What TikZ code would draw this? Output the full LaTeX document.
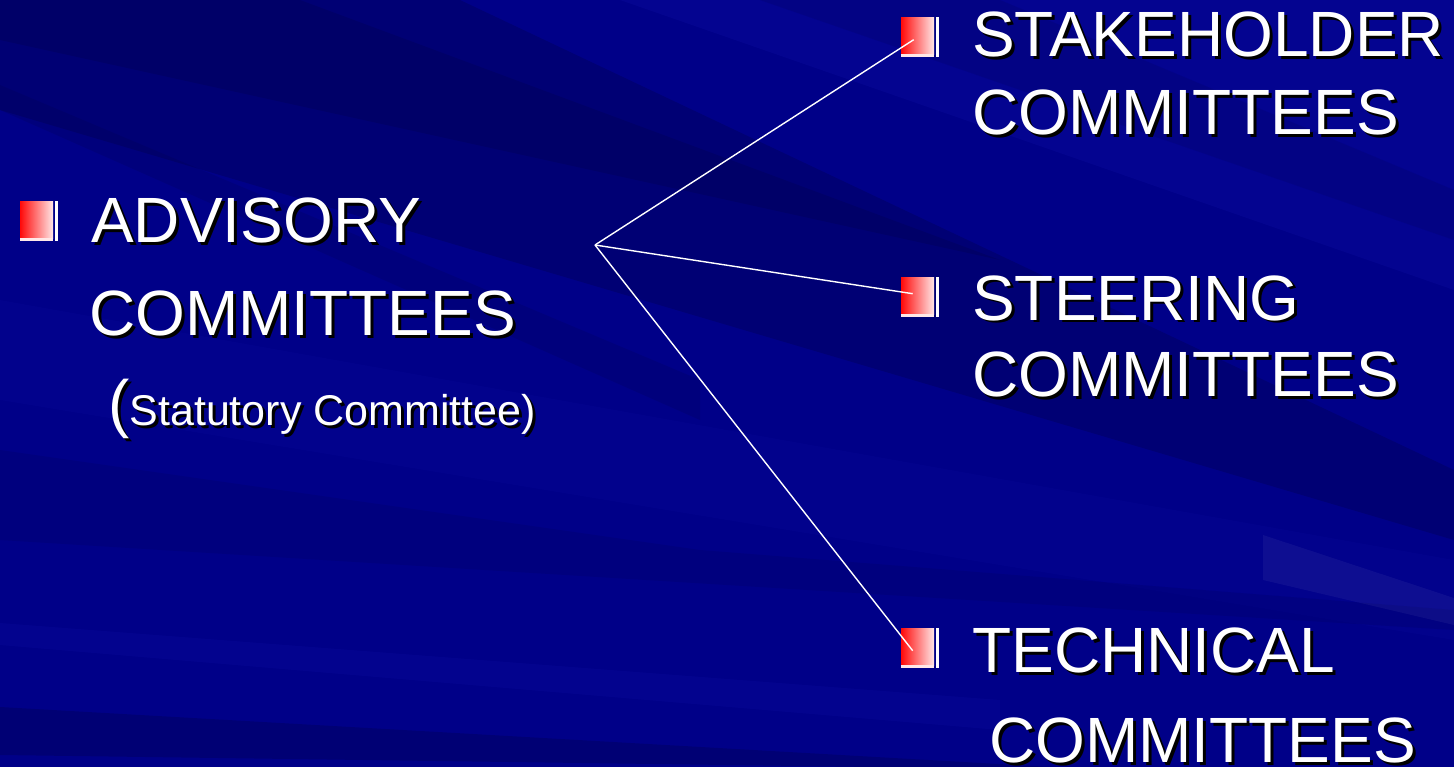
\documentclass[tikz,border=0pt]{standalone}
\usepackage{fontspec}
\setmainfont{Liberation Sans}
\definecolor{bgbase}{RGB}{0,0,136}
\definecolor{bgdark}{RGB}{0,0,70}
\definecolor{bglight}{RGB}{30,30,190}
\definecolor{bulred}{RGB}{255,10,10}
\definecolor{bulpale}{RGB}{255,232,232}
\tikzset{
  big/.style={font=\fontsize{64}{77}\selectfont, inner sep=0pt, anchor=base west},
  bul/.style={anchor=north west, minimum width=33pt, minimum height=37pt, inner sep=0pt,
    left color=bulred, right color=bulpale},
  link/.style={draw=white, line width=1.4pt},
}
\newcommand{\shtext}[4]{%
  \node[#1, text=black] (#2-sh) at ($(#3)+(3,3)$) {#4};
  \node[#1, text=white] (#2) at (#3) {#4};}
\usetikzlibrary{calc}
\begin{document}
\begin{tikzpicture}[x=1pt,y=-1pt]
\useasboundingbox (0,0) rectangle (1454,767);
% background
\fill[bgbase] (0,0) rectangle (1454,767);
\fill[bgdark, opacity=.3] (0,0) -- (460,0) -- (1454,470) -- (1454,540) -- (0,110) -- cycle;
\fill[bgdark, opacity=.25] (0,0) -- (300,0) -- (1000,260) -- (0,40) -- cycle;
\fill[bgdark, opacity=.18] (0,85) -- (0,110) -- (700,420) -- (700,380) -- cycle;
\fill[bglight, opacity=.15] (620,0) -- (1454,0) -- (1454,290) -- cycle;
\fill[bgdark, opacity=.15] (760,0) -- (1000,0) -- (1454,190) -- (1454,240) -- cycle;
\fill[bglight, opacity=.08] (0,400) -- (1454,640) -- (1454,560) -- (0,300) -- cycle;
\fill[bgdark, opacity=.15] (0,450) -- (700,550) -- (1454,610) -- (1454,630) -- (0,540) -- cycle;
\fill[bglight, opacity=.12] (0,623) -- (0,645) -- (1000,730) -- (1000,700) -- cycle;
\fill[bgdark, opacity=.3] (0,707) -- (1454,790) -- (1454,775) -- (0,755) -- cycle;
\fill[white, opacity=.05] (1263,535) -- (1454,598) -- (1454,625) -- (1263,580) -- cycle;
% bullets
\foreach \n/\x/\y in {ba/20/201, bs/901/17, be/901/277, bt/901/628}{
  \node[bul] (\n) at (\x,\y) {};
  \fill[bulpale] (\n.south west) rectangle ++(33,3);
  \fill[white] ([xshift=2pt]\n.north east) rectangle ++(3,40);
}
% texts
\shtext{big}{adv1}{91,243}{ADVISORY}
\shtext{big}{adv2}{89,335}{COMMITTEES}
\shtext{big}{adv3}{108,425}{(\fontsize{43}{50}\selectfont Statutory Committee)}
\shtext{big}{sta1}{972,57}{STAKEHOLDER}
\shtext{big}{sta2}{972,135}{COMMITTEES}
\shtext{big}{ste1}{972,320}{STEERING}
\shtext{big}{ste2}{972,396}{COMMITTEES}
\shtext{big}{tec1}{972,672}{TECHNICAL}
\shtext{big}{tec2}{989,762}{COMMITTEES}
% connectors
\coordinate (hub) at (595,245);
\draw[link] (hub) -- ([shift={(-4pt,-4pt)}]bs.center);
\draw[link] (hub) -- ([shift={(-5pt,2pt)}]be.center);
\draw[link] (hub) -- ([shift={(-5pt,-4pt)}]bt.center);
\end{tikzpicture}
\end{document}
